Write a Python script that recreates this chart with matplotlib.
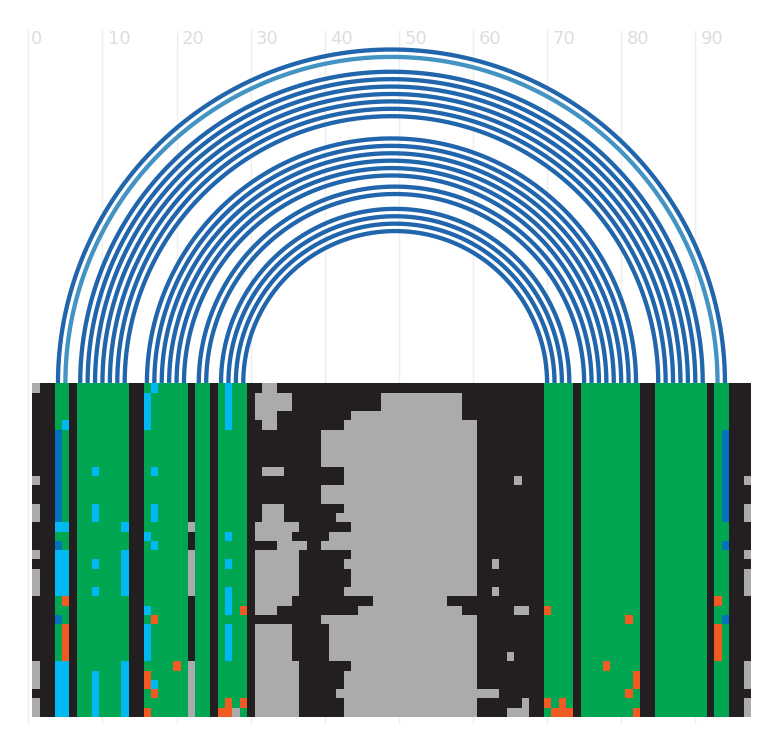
import matplotlib
matplotlib.use("Agg")
import matplotlib.pyplot as plt
from matplotlib.colors import ListedColormap, BoundaryNorm
import numpy as np

# alignment columns (1-based), 36 rows top to bottom, 97 columns
n_rows = 36
n_cols = 97

# base pairs (left col, right col), drawn as arcs above the alignment
pairs_dark = [(4, 94), (7, 91), (8, 90), (9, 89), (10, 88), (11, 87), (12, 86), (13, 85),
              (16, 82), (17, 81), (18, 80), (19, 79), (20, 78), (21, 77),
              (23, 76), (24, 75), (26, 73), (27, 72), (28, 71), (29, 70)]
pairs_light = [(5, 93)]

# gray runs per row: (row, first col, last col)
gray_runs = [
    (1, 1, 1), (1, 32, 33),
    (2, 31, 35), (2, 48, 58),
    (3, 31, 35), (3, 48, 58),
    (4, 31, 33), (4, 44, 58),
    (5, 32, 33), (5, 43, 60),
    (6, 40, 60), (7, 40, 60), (8, 40, 60), (9, 40, 60),
    (10, 32, 34), (10, 43, 60),
    (11, 1, 1), (11, 43, 60), (11, 66, 66), (11, 97, 97),
    (12, 40, 60), (13, 40, 60),
    (14, 1, 1), (14, 32, 34), (14, 43, 60), (14, 97, 97),
    (15, 1, 1), (15, 32, 34), (15, 42, 60), (15, 97, 97),
    (16, 22, 22), (16, 31, 36), (16, 44, 60),
    (17, 31, 35), (17, 41, 60),
    (18, 34, 37), (18, 40, 60),
    (19, 1, 1), (19, 22, 22), (19, 31, 36), (19, 44, 60), (19, 97, 97),
    (20, 22, 22), (20, 31, 36), (20, 43, 60), (20, 63, 63),
    (21, 1, 1), (21, 22, 22), (21, 31, 36), (21, 44, 60), (21, 97, 97),
    (22, 1, 1), (22, 22, 22), (22, 31, 36), (22, 44, 60), (22, 97, 97),
    (23, 1, 1), (23, 22, 22), (23, 31, 36), (23, 43, 60), (23, 63, 63), (23, 97, 97),
    (24, 31, 35), (24, 47, 56),
    (25, 31, 33), (25, 45, 58), (25, 66, 67),
    (26, 40, 60),
    (27, 31, 35), (27, 41, 60),
    (28, 31, 35), (28, 41, 60),
    (29, 31, 35), (29, 41, 60),
    (30, 31, 35), (30, 41, 60), (30, 65, 65),
    (31, 1, 1), (31, 22, 22), (31, 31, 36), (31, 44, 60), (31, 97, 97),
    (32, 1, 1), (32, 22, 22), (32, 31, 36), (32, 43, 60), (32, 97, 97),
    (33, 1, 1), (33, 22, 22), (33, 31, 36), (33, 43, 60), (33, 97, 97),
    (34, 22, 22), (34, 31, 36), (34, 42, 63),
    (35, 1, 1), (35, 22, 22), (35, 31, 36), (35, 43, 60), (35, 67, 67), (35, 97, 97),
    (36, 1, 1), (36, 22, 22), (36, 28, 28), (36, 31, 36), (36, 43, 60), (36, 65, 67), (36, 97, 97),
]

# runs of the other states: (col, first row, last row)
cyan_runs = [
    (5, 5, 5), (4, 16, 16), (5, 16, 16), (4, 19, 23), (5, 19, 23), (4, 31, 36), (5, 31, 36),
    (9, 10, 10), (9, 14, 15), (9, 20, 20), (9, 23, 23), (9, 32, 36),
    (13, 16, 16), (13, 19, 23), (13, 31, 36),
    (16, 2, 5), (16, 17, 17), (16, 25, 25), (16, 27, 30),
    (17, 1, 1), (17, 10, 10), (17, 14, 15), (17, 18, 18), (17, 33, 33),
    (27, 1, 5), (27, 17, 17), (27, 20, 20), (27, 23, 25), (27, 27, 30),
]
blue_runs = [
    (4, 6, 15), (4, 18, 18), (4, 26, 26),
    (94, 6, 15), (94, 18, 18), (94, 26, 26),
]
orange_runs = [
    (5, 24, 24), (5, 27, 30),
    (17, 26, 26), (20, 31, 31), (16, 32, 33), (17, 34, 34), (16, 36, 36),
    (29, 25, 25), (27, 35, 35), (29, 35, 35), (26, 36, 36), (27, 36, 36),
    (70, 25, 25), (81, 26, 26), (78, 31, 31), (82, 32, 33), (81, 34, 34), (70, 35, 35), (72, 35, 35),
    (71, 36, 36), (72, 36, 36), (73, 36, 36), (82, 36, 36),
    (93, 24, 24), (93, 27, 30),
]
tick_values = [0, 10, 20, 30, 40, 50, 60, 70, 80, 90]

state_colors = ["#231f20", "#ababab", "#00a651", "#00b9f2", "#0072bc", "#f15a22"]

# matrix: 0 black, 1 gray, 2 green, 3 cyan, 4 blue, 5 orange
matrix = np.zeros((n_rows, n_cols), dtype=int)
for a, b in pairs_dark + pairs_light:
    matrix[:, a - 1] = 2
    matrix[:, b - 1] = 2
for r, c1, c2 in gray_runs:
    matrix[r - 1, c1 - 1:c2] = 1
for state, runs in [(3, cyan_runs), (4, blue_runs), (5, orange_runs)]:
    for c, r1, r2 in runs:
        matrix[r1 - 1:r2, c - 1] = state

W, H = 776, 752
unit = 7.411           # px per column
x0_px = 28.33          # px of column 0
base_px = 383          # px of arc baseline / top of alignment
row_h = 9.265 / unit
nudge_x = 0.35 / unit  # the cell edges round by a fraction of a pixel
nudge_y = 0.29 / unit

fig = plt.figure(figsize=(W / 100, H / 100), dpi=100)
ax = fig.add_axes([0, 0, 1, 1])
ax.set_xlim(-x0_px / unit, (W - x0_px) / unit)
ax.set_ylim(-(H - base_px) / unit, base_px / unit)
ax.axis("off")

# grid + tick labels
top = (base_px - 30) / unit
bottom = -(724 - base_px) / unit
ax.vlines(tick_values, bottom, top, color="#eeeeee", lw=1.0, zorder=1)
for t in tick_values:
    # label sits a quarter of its own width right of the line
    pad = 2.4 if t < 10 else 5.4
    ax.text(t + pad / unit, (base_px - 38.5) / unit, str(t), color="#dddddd", fontsize=13,
            family="DejaVu Sans", ha="left", va="center", zorder=2)

# arcs
theta = np.linspace(0, np.pi, 400)
for pairs, col in [(pairs_dark, "#2166ac"), (pairs_light, "#4393c3")]:
    for a, b in pairs:
        cx = (a + b) / 2
        r = (b - a) / 2
        ax.plot(cx + r * np.cos(theta), r * np.sin(theta), color=col, lw=3.1,
                solid_capstyle="butt", zorder=3)

# alignment
cmap = ListedColormap(state_colors)
norm = BoundaryNorm(np.arange(-0.5, 6.5), cmap.N)
xe = np.arange(n_cols + 1) + 0.5 + nudge_x
ye = -np.arange(n_rows + 1) * row_h - nudge_y
ax.pcolormesh(xe, ye, matrix, cmap=cmap, norm=norm, antialiased=False, zorder=4)

fig.savefig("out.png", dpi=100)
